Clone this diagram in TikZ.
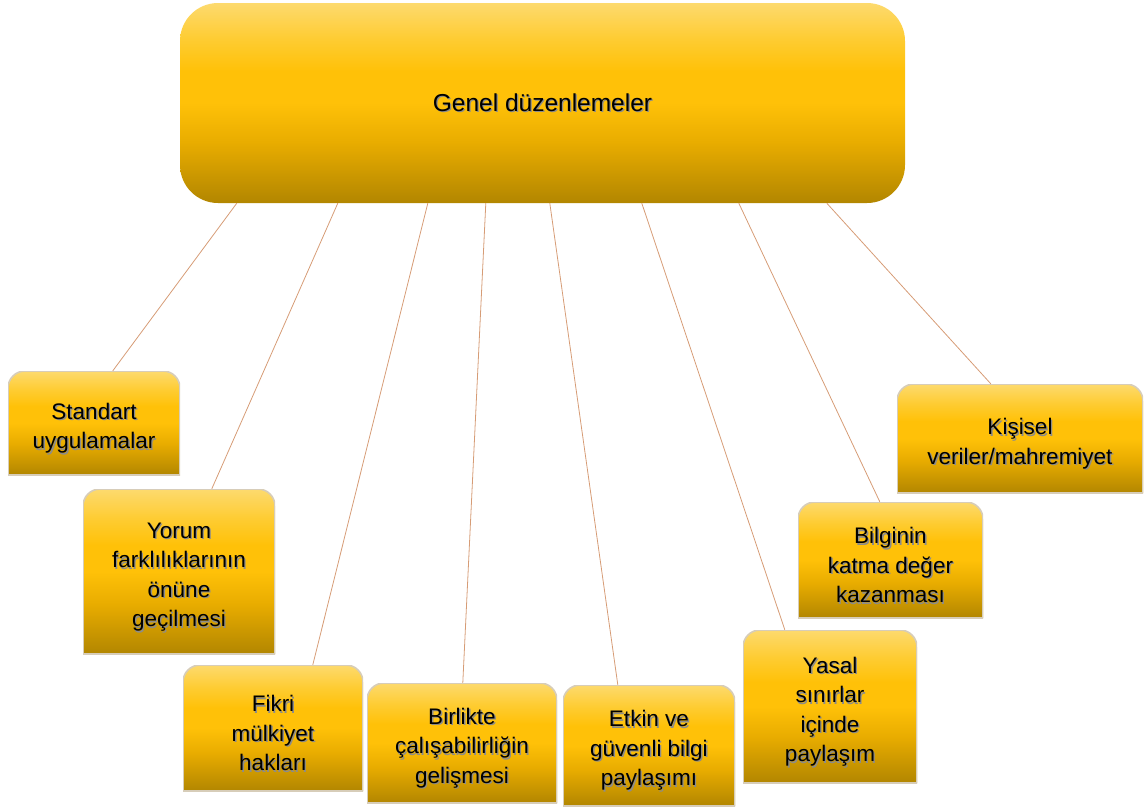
\documentclass[tikz,border=0pt]{standalone}
\usepackage{fontspec}
\setmainfont{Liberation Sans}
\usetikzlibrary{calc}

\definecolor{goldlight}{RGB}{253,218,110}
\definecolor{goldsoft}{RGB}{254,204,50}
\definecolor{goldmid}{RGB}{255,193,8}
\definecolor{goldlow}{RGB}{232,172,0}
\definecolor{golddark}{RGB}{178,134,0}
\definecolor{linkcol}{RGB}{214,156,118}
\definecolor{edgecol}{RGB}{215,205,185}

% vertical gold gradient: the path spans 25bp (bottom) to 75bp (top)
\pgfdeclareverticalshading{gold}{100bp}{%
  color(0bp)=(golddark); color(25bp)=(golddark);
  color(40bp)=(goldlow); color(50bp)=(goldmid); color(58bp)=(goldmid);
  color(66bp)=(goldsoft); color(75bp)=(goldlight); color(100bp)=(goldlight)}

% text with a soft dark shadow underneath
\newcommand\shtxt[1]{\leavevmode\rlap{\kern1.3pt\raisebox{-1.3pt}{\textcolor{black!45}{#1}}}#1}
% first line of an item label, with extra room above it
\newcommand\firstln[1]{\rule{0pt}{28pt}\shtxt{#1}}

\begin{document}
\begin{tikzpicture}[x=1pt,y=-1pt,
  titlebox/.style={minimum width=725pt,minimum height=200pt,inner sep=0pt,
    path picture={\shade[shading=gold,rounded corners=38pt]
      (path picture bounding box.south west) rectangle (path picture bounding box.north east);},
    font=\fontsize{24.5}{29}\selectfont},
  itembox/.style args={#1x#2}{minimum width=#1pt,minimum height=#2pt,inner sep=0pt,
    align=center,font=\fontsize{22.5}{29.5}\selectfont,
    path picture={\shadedraw[shading=gold,draw=edgecol,line width=1.6pt]
      (path picture bounding box.south west)
      -- ([yshift=-17pt]path picture bounding box.north west)
      arc[start angle=180,end angle=90,radius=17pt]
      -- ([xshift=-17pt]path picture bounding box.north east)
      arc[start angle=90,end angle=0,radius=17pt]
      -- (path picture bounding box.south east) -- cycle;}},
  link/.style={draw=linkcol,line width=0.8pt}]

\useasboundingbox (0,0) rectangle (1144,807);

% central box
\node[titlebox] (top) at (542.5,103) {\shtxt{Genel düzenlemeler}};

% item boxes
\node[itembox=172x104] (n1) at (94,423) {\firstln{Standart}\\\shtxt{uygulamalar}};
\node[itembox=192x165] (n2) at (179,571.5) {\firstln{Yorum}\\\shtxt{farklılıklarının}\\\shtxt{önüne}\\\shtxt{geçilmesi}};
\node[itembox=180x126] (n3) at (273,728) {\firstln{Fikri}\\\shtxt{mülkiyet}\\\shtxt{hakları}};
\node[itembox=190x120] (n4) at (462,743) {\firstln{Birlikte}\\\shtxt{çalışabilirliğin}\\\shtxt{gelişmesi}};
\node[itembox=172x121] (n5) at (649,745.5) {\firstln{Etkin ve}\\\shtxt{güvenli bilgi}\\\shtxt{paylaşımı}};
\node[itembox=174x153] (n6) at (830,706.5) {\firstln{Yasal}\\\shtxt{sınırlar}\\\shtxt{içinde}\\\shtxt{paylaşım}};
\node[itembox=185x116] (n7) at (890.5,560) {\firstln{Bilginin}\\\shtxt{katma değer}\\\shtxt{kazanması}};
\node[itembox=246x109] (n8) at (1020,438.5) {\firstln{Kişisel}\\\shtxt{veriler/mahremiyet}};

% connectors from the central box to each item
\draw[link] ([xshift=57pt]top.south west)  -- ([xshift=105pt]n1.north west);
\draw[link] ([xshift=158pt]top.south west) -- ([xshift=129pt]n2.north west);
\draw[link] ([xshift=248pt]top.south west) -- ([xshift=130pt]n3.north west);
\draw[link] ([xshift=306pt]top.south west) -- ([xshift=96pt]n4.north west);
\draw[link] ([xshift=370pt]top.south west) -- ([xshift=55pt]n5.north west);
\draw[link] ([xshift=462pt]top.south west) -- ([xshift=42pt]n6.north west);
\draw[link] ([xshift=559pt]top.south west) -- ([xshift=82pt]n7.north west);
\draw[link] ([xshift=647pt]top.south west) -- ([xshift=94pt]n8.north west);

\end{tikzpicture}
\end{document}
